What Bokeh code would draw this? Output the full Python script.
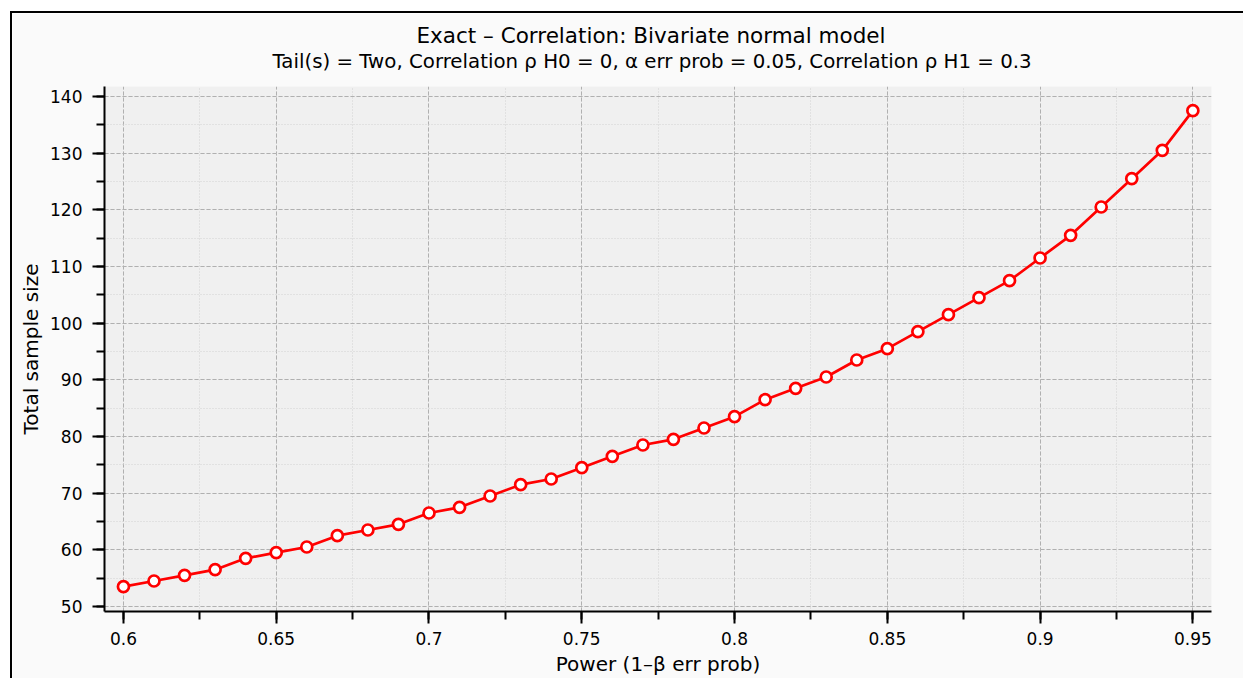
from bokeh.plotting import figure
from bokeh.models import Title, SingleIntervalTicker, Range1d
from bokeh.embed import file_html
from bokeh.resources import INLINE

# Power (1-beta) levels and the total sample size plotted for each
power = [0.60, 0.61, 0.62, 0.63, 0.64, 0.65, 0.66, 0.67, 0.68, 0.69,
         0.70, 0.71, 0.72, 0.73, 0.74, 0.75, 0.76, 0.77, 0.78, 0.79,
         0.80, 0.81, 0.82, 0.83, 0.84, 0.85, 0.86, 0.87, 0.88, 0.89,
         0.90, 0.91, 0.92, 0.93, 0.94, 0.95]
sample_size = [53.5, 54.5, 55.5, 56.5, 58.5, 59.5, 60.5, 62.5, 63.5, 64.5,
               66.5, 67.5, 69.5, 71.5, 72.5, 74.5, 76.5, 78.5, 79.5, 81.5,
               83.5, 86.5, 88.5, 90.5, 93.5, 95.5, 98.5, 101.5, 104.5, 107.5,
               111.5, 115.5, 120.5, 125.5, 130.5, 137.5]

x_ticks = [0.6, 0.65, 0.7, 0.75, 0.8, 0.85, 0.9, 0.95]
x_tick_labels = ["0.6", "0.65", "0.7", "0.75", "0.8", "0.85", "0.9", "0.95"]

title_text = "Exact \u2013 Correlation: Bivariate normal model"
subtitle_text = ("Tail(s) = Two, Correlation \u03c1 H0 = 0, \u03b1 err prob = 0.05, "
                 "Correlation \u03c1 H1 = 0.3")

FONT = "DejaVu Sans"

p = figure(width=1233, height=667, output_backend="svg", toolbar_location=None,
           x_range=Range1d(0.5938, 0.9561), y_range=Range1d(49.12, 141.76),
           min_border_left=92, min_border_right=34, min_border_top=73,
           min_border_bottom=69, title=None)

p.margin = (11, 0, 0, 10)
p.styles = {"border-left": "2px solid #000", "border-top": "2px solid #000"}

p.background_fill_color = "#f0f0f0"
p.border_fill_color = "#fafafa"
p.outline_line_color = None

# header: a blank spacer next to the frame, then the subtitle, then the title
p.add_layout(Title(text=" ", text_font=FONT, text_font_size="1px",
                   standoff=11), "above")
p.add_layout(Title(text=subtitle_text, align="left", offset=168, text_font=FONT,
                   text_font_size="19.8px", text_font_style="normal",
                   text_color="#000000", standoff=0), "above")
p.add_layout(Title(text=title_text, align="left", offset=312, text_font=FONT,
                   text_font_size="21.5px", text_font_style="normal",
                   text_color="#000000", standoff=0), "above")

# axes
p.xaxis.ticker = SingleIntervalTicker(interval=0.05, num_minor_ticks=2)
p.xaxis.major_label_overrides = {t: s for t, s in zip(x_ticks, x_tick_labels)}
p.yaxis.ticker = SingleIntervalTicker(interval=10, num_minor_ticks=2)
p.xaxis.axis_label = "Power (1\u2013\u03b2 err prob)"
p.yaxis.axis_label = "Total sample size"

for ax in (p.xaxis[0], p.yaxis[0]):
    ax.axis_line_color = "#000000"
    ax.axis_line_width = 2
    ax.major_tick_line_color = "#000000"
    ax.major_tick_line_width = 2
    ax.minor_tick_line_color = "#000000"
    ax.minor_tick_line_width = 2
    ax.major_tick_in = 0
    ax.major_tick_out = 12
    ax.minor_tick_in = 0
    ax.minor_tick_out = 8
    ax.major_label_text_font = FONT
    ax.major_label_text_font_size = "17px"
    ax.major_label_text_color = "#000000"
    ax.axis_label_text_font = FONT
    ax.axis_label_text_font_size = "20px"
    ax.axis_label_text_font_style = "normal"
    ax.axis_label_text_color = "#000000"

p.xaxis.major_label_standoff = 8
p.xaxis.axis_label_standoff = 4
p.yaxis.major_label_standoff = 10
p.yaxis.axis_label_standoff = 4

# grid: dashed major lines, dotted minor lines
for g in (p.xgrid[0], p.ygrid[0]):
    g.grid_line_color = "#b0b0b0"
    g.grid_line_dash = "4 2"
    g.grid_line_width = 1
    g.minor_grid_line_color = "#d2d2d2"
    g.minor_grid_line_dash = "1 2"
    g.minor_grid_line_width = 1

# curve with hollow markers
p.line(power, sample_size, line_color="#ff0000", line_width=2.7)
p.scatter(power, sample_size, marker="circle", size=11, fill_color="#ffffff",
          line_color="#ff0000", line_width=2.7)

open("out.html", "w").write(file_html(p, INLINE))
